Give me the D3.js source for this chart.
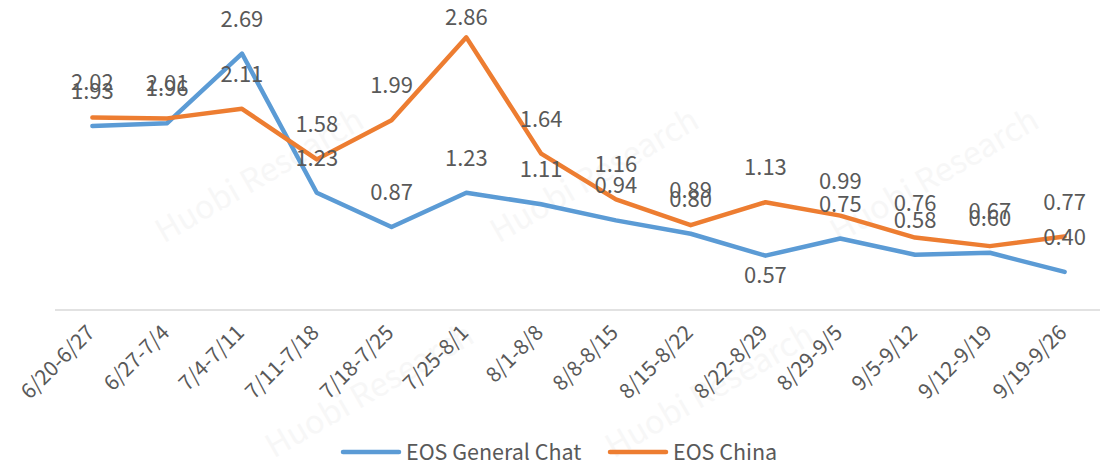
<!DOCTYPE html>
<html>
<head>
<meta charset="utf-8">
<script src="https://cdn.jsdelivr.net/npm/d3@7"></script>
<style>
  body { margin: 0; background: #fff; }
  svg { display: block; font-family: 'Noto Sans CJK SC', 'Open Sans', sans-serif; }
</style>
</head>
<body>
<div id="chart"></div>
<script>
const categories = [
  '6/20-6/27', '6/27-7/4', '7/4-7/11', '7/11-7/18', '7/18-7/25', '7/25-8/1',
  '8/1-8/8', '8/8-8/15', '8/15-8/22', '8/22-8/29', '8/29-9/5', '9/5-9/12',
  '9/12-9/19', '9/19-9/26'
];
const generalChat = [1.93, 1.96, 2.69, 1.23, 0.87, 1.23, 1.11, 0.94, 0.80, 0.57, 0.75, 0.58, 0.60, 0.40];
const eosChina = [2.02, 2.01, 2.11, 1.58, 1.99, 2.86, 1.64, 1.16, 0.89, 1.13, 0.99, 0.76, 0.67, 0.77];
// label below the point for these indices
const generalChatBelow = [9];

const series = [
  { name: 'EOS General Chat', values: generalChat, color: '#5B9BD5', below: generalChatBelow },
  { name: 'EOS China', values: eosChina, color: '#ED7D31', below: [] }
];

const width = 1100;
const height = 470;
const marginLeft = 55;
const marginRight = -2;
const axisY = 310;

const svg = d3.select('#chart')
  .append('svg')
  .attr('width', width)
  .attr('height', height);

// faint watermarks
const marks = [
  [265, 185], [600, 185], [940, 185],
  [375, 400], [715, 400]
];
svg.append('g')
  .selectAll('text')
  .data(marks)
  .join('text')
  .attr('transform', (d) => `translate(${d[0]},${d[1]}) rotate(-30)`)
  .attr('text-anchor', 'middle')
  .attr('font-size', 32)
  .attr('fill', '#f7f7f7')
  .text('Huobi Research');

const x = d3.scalePoint()
  .domain(categories)
  .range([marginLeft, width - marginRight])
  .padding(0.5);

const y = d3.scaleLinear()
  .domain([0, 3])
  .range([axisY, 24]);

// x axis
const xAxis = svg.append('g')
  .attr('transform', `translate(0,${axisY})`)
  .call(d3.axisBottom(x).tickSize(0).tickSizeOuter(0));

xAxis.select('.domain')
  .attr('stroke', '#d9d9d9')
  .attr('stroke-width', 1.3)
  .attr('d', `M${marginLeft},0H${width - marginRight}`);

xAxis.selectAll('.tick text')
  .attr('fill', '#595959')
  .attr('font-size', 21)
  .attr('font-family', "'Noto Sans CJK SC', 'Open Sans', sans-serif")
  .attr('text-anchor', 'end')
  .attr('dy', null)
  .attr('y', 0)
  .attr('transform', 'translate(3,24) rotate(-45)');

const line = d3.line()
  .x((d, i) => x(categories[i]))
  .y((d) => y(d));

svg.append('g')
  .selectAll('path')
  .data(series)
  .join('path')
  .attr('fill', 'none')
  .attr('stroke', (d) => d.color)
  .attr('stroke-width', 4.5)
  .attr('stroke-linejoin', 'round')
  .attr('stroke-linecap', 'round')
  .attr('d', (d) => line(d.values));

// data labels, kept inside the top of the chart
series.forEach((s) => {
  svg.append('g')
    .selectAll('text')
    .data(s.values)
    .join('text')
    .attr('x', (d, i) => x(categories[i]))
    .attr('y', (d, i) => s.below.includes(i) ? y(d) + 27 : Math.max(y(d) - 27, 25))
    .attr('text-anchor', 'middle')
    .attr('font-size', 22)
    .attr('fill', '#595959')
    .text((d) => d.toFixed(2));
});

// legend
const legend = svg.append('g')
  .attr('transform', 'translate(343,452)');

series.forEach((s, i) => {
  const g = legend.append('g').attr('transform', `translate(${i === 0 ? 0 : 267},0)`);
  g.append('line')
    .attr('x1', 0)
    .attr('x2', 56)
    .attr('stroke', s.color)
    .attr('stroke-width', 4.5)
    .attr('stroke-linecap', 'round');
  g.append('text')
    .attr('x', 63)
    .attr('y', 8)
    .attr('font-size', 21.5)
    .attr('fill', '#595959')
    .text(s.name);
});
</script>
</body>
</html>
